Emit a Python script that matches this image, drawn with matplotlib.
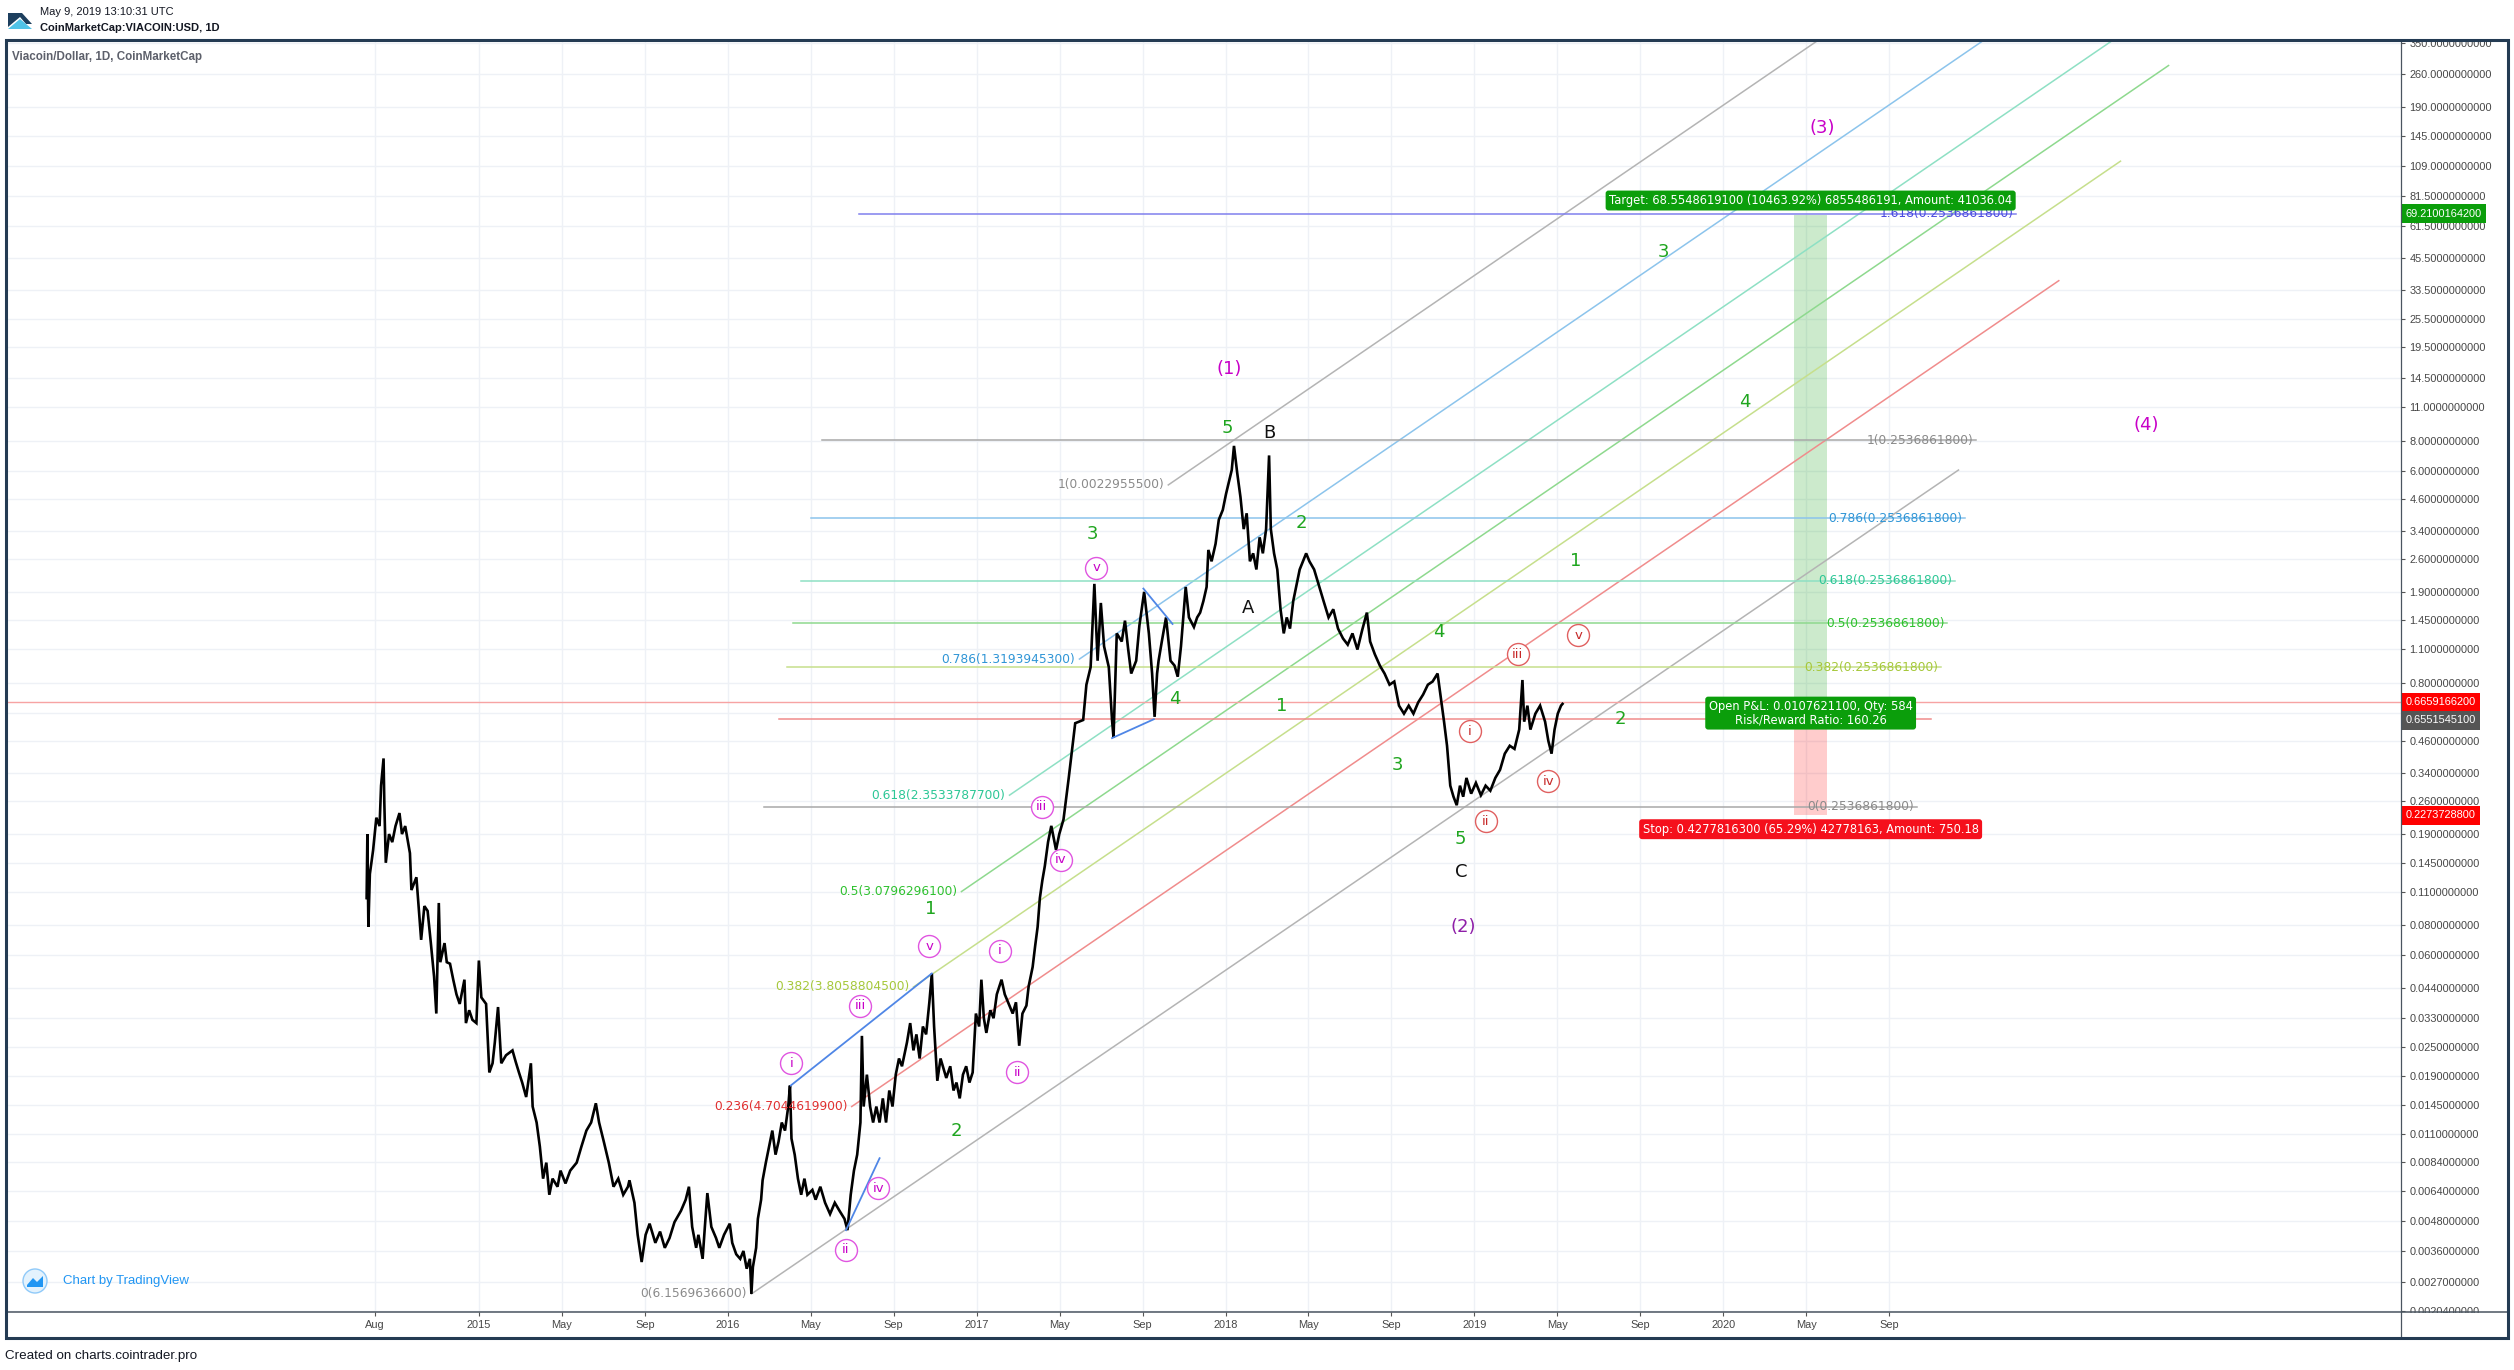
import matplotlib
matplotlib.use('Agg')
import matplotlib.pyplot as plt
from matplotlib.patches import Rectangle, Polygon, Ellipse
from matplotlib.lines import Line2D
from matplotlib.ticker import NullLocator

# ---------------------------------------------------------------
# data (x in decimal years, y in USD)
# ---------------------------------------------------------------
price_years = [
    2014.549, 2014.552, 2014.556, 2014.562, 2014.575, 2014.588, 2014.601, 2014.607, 2014.617, 2014.620,
    2014.626, 2014.639, 2014.652, 2014.665, 2014.681, 2014.691, 2014.704, 2014.723, 2014.729, 2014.749,
    2014.768, 2014.781, 2014.794, 2014.807, 2014.820, 2014.829, 2014.839, 2014.845, 2014.862, 2014.871,
    2014.884, 2014.897, 2014.910, 2014.923, 2014.942, 2014.948, 2014.961, 2014.974, 2014.990, 2015.000,
    2015.010, 2015.029, 2015.042, 2015.055, 2015.064, 2015.077, 2015.090, 2015.109, 2015.135, 2015.148,
    2015.161, 2015.174, 2015.190, 2015.209, 2015.216, 2015.232, 2015.245, 2015.258, 2015.271, 2015.283,
    2015.296, 2015.316, 2015.328, 2015.348, 2015.367, 2015.393, 2015.412, 2015.432, 2015.451, 2015.470,
    2015.483, 2015.502, 2015.522, 2015.541, 2015.560, 2015.580, 2015.599, 2015.605, 2015.625, 2015.638,
    2015.654, 2015.670, 2015.686, 2015.709, 2015.728, 2015.747, 2015.766, 2015.786, 2015.812, 2015.831,
    2015.844, 2015.857, 2015.873, 2015.882, 2015.899, 2015.908, 2015.918, 2015.934, 2015.953, 2015.966,
    2015.985, 2016.008, 2016.018, 2016.034, 2016.050, 2016.063, 2016.076, 2016.089, 2016.095, 2016.101,
    2016.114, 2016.121, 2016.134, 2016.140, 2016.153, 2016.166, 2016.179, 2016.192, 2016.204, 2016.217,
    2016.230, 2016.243, 2016.250, 2016.256, 2016.269, 2016.282, 2016.295, 2016.308, 2016.320, 2016.340,
    2016.353, 2016.372, 2016.391, 2016.411, 2016.430, 2016.449, 2016.469, 2016.481, 2016.494, 2016.507,
    2016.520, 2016.533, 2016.539, 2016.546, 2016.559, 2016.572, 2016.584, 2016.597, 2016.610, 2016.623,
    2016.636, 2016.649, 2016.662, 2016.675, 2016.688, 2016.700, 2016.720, 2016.733, 2016.746, 2016.758,
    2016.771, 2016.784, 2016.797, 2016.810, 2016.820, 2016.829, 2016.842, 2016.855, 2016.878, 2016.894,
    2016.907, 2016.919, 2016.932, 2016.945, 2016.958, 2016.971, 2016.984, 2016.997, 2017.010, 2017.019,
    2017.029, 2017.039, 2017.055, 2017.068, 2017.081, 2017.100, 2017.113, 2017.132, 2017.145, 2017.158,
    2017.171, 2017.184, 2017.200, 2017.209, 2017.225, 2017.235, 2017.245, 2017.254, 2017.264, 2017.274,
    2017.287, 2017.300, 2017.319, 2017.332, 2017.349, 2017.370, 2017.396, 2017.428, 2017.441, 2017.458,
    2017.473, 2017.486, 2017.499, 2017.512, 2017.531, 2017.544, 2017.550, 2017.563, 2017.583, 2017.596,
    2017.609, 2017.621, 2017.641, 2017.654, 2017.673, 2017.692, 2017.705, 2017.715, 2017.725, 2017.731,
    2017.744, 2017.761, 2017.779, 2017.795, 2017.808, 2017.821, 2017.840, 2017.853, 2017.873, 2017.886,
    2017.898, 2017.911, 2017.924, 2017.931, 2017.944, 2017.960, 2017.973, 2017.989, 2018.002, 2018.025,
    2018.034, 2018.047, 2018.060, 2018.073, 2018.085, 2018.098, 2018.111, 2018.124, 2018.137, 2018.150,
    2018.163, 2018.175, 2018.182, 2018.195, 2018.208, 2018.221, 2018.234, 2018.246, 2018.259, 2018.272,
    2018.285, 2018.298, 2018.311, 2018.324, 2018.337, 2018.356, 2018.375, 2018.394, 2018.414, 2018.433,
    2018.452, 2018.472, 2018.491, 2018.510, 2018.530, 2018.549, 2018.568, 2018.581, 2018.600, 2018.620,
    2018.639, 2018.659, 2018.678, 2018.697, 2018.717, 2018.736, 2018.755, 2018.774, 2018.794, 2018.813,
    2018.832, 2018.852, 2018.865, 2018.878, 2018.890, 2018.903, 2018.916, 2018.929, 2018.942, 2018.955,
    2018.968, 2018.987, 2019.006, 2019.026, 2019.045, 2019.064, 2019.084, 2019.103, 2019.122, 2019.142,
    2019.161, 2019.180, 2019.193, 2019.200, 2019.213, 2019.225, 2019.245, 2019.264, 2019.284, 2019.297,
    2019.310, 2019.322, 2019.335, 2019.348, 2019.354,
]
price_values = [
    0.1034, 0.190, 0.0786, 0.130, 0.163, 0.222, 0.205, 0.301, 0.390, 0.258,
    0.1446, 0.190, 0.176, 0.205, 0.232, 0.190, 0.205, 0.1585, 0.1116, 0.126,
    0.0695, 0.0958, 0.0915, 0.0674, 0.0490, 0.0345, 0.0987, 0.0562, 0.0674, 0.0562,
    0.0554, 0.0476, 0.0414, 0.0378, 0.0476, 0.0315, 0.0356, 0.0325, 0.0315, 0.0571,
    0.0402, 0.0378, 0.0197, 0.0215, 0.0262, 0.0367, 0.0215, 0.0232, 0.0243, 0.0218,
    0.0197, 0.0179, 0.0156, 0.0215, 0.01425, 0.01224, 0.00974, 0.00718, 0.00836, 0.00616,
    0.00718, 0.00665, 0.00775, 0.00686, 0.00775, 0.00836, 0.00974, 0.01134, 0.01224, 0.0147,
    0.01224, 0.0102, 0.00836, 0.00665, 0.00718, 0.00616, 0.00665, 0.00707, 0.00571, 0.00421,
    0.00325, 0.00421, 0.00468, 0.00390, 0.00434, 0.00372, 0.00408, 0.00475, 0.00529, 0.00588,
    0.00665, 0.00454, 0.00372, 0.00421, 0.00335, 0.00454, 0.00626, 0.00454, 0.00408, 0.00372,
    0.00421, 0.00468, 0.00390, 0.00350, 0.00335, 0.00361, 0.00305, 0.00335, 0.00240, 0.00310,
    0.00372, 0.00490, 0.00588, 0.00707, 0.00836, 0.00974, 0.01134, 0.00902, 0.0102, 0.01224,
    0.01134, 0.01425, 0.0174, 0.01051, 0.00902, 0.00718, 0.00616, 0.00718, 0.00616, 0.00645,
    0.00588, 0.00665, 0.00571, 0.00513, 0.00571, 0.00529, 0.00490, 0.00440, 0.00616, 0.00775,
    0.00902, 0.01224, 0.0279, 0.01425, 0.0193, 0.01425, 0.01224, 0.01425, 0.01224, 0.0154,
    0.01224, 0.0166, 0.01425, 0.0193, 0.0225, 0.0209, 0.0262, 0.0315, 0.0243, 0.0283,
    0.0225, 0.0305, 0.0283, 0.0384, 0.0505, 0.0305, 0.0182, 0.0225, 0.0187, 0.0209,
    0.0166, 0.0179, 0.0154, 0.0193, 0.0209, 0.0179, 0.0197, 0.0345, 0.0305, 0.0476,
    0.0330, 0.0287, 0.0356, 0.0330, 0.0414, 0.0476, 0.0414, 0.0372, 0.0345, 0.0384,
    0.0254, 0.0345, 0.0372, 0.0447, 0.0537, 0.0655, 0.0786, 0.1034, 0.1223, 0.1403,
    0.1763, 0.2054, 0.1634, 0.190, 0.2183, 0.324, 0.545, 0.562, 0.786, 0.929,
    2.05, 0.987, 1.71, 1.132, 0.929, 0.562, 0.475, 1.28, 1.185, 1.445,
    1.098, 0.874, 0.987, 1.38, 1.90, 1.28, 0.874, 0.579, 0.874, 0.987,
    1.185, 1.49, 0.987, 0.943, 0.848, 1.132, 1.99, 1.49, 1.36, 1.49,
    1.56, 1.74, 1.99, 2.83, 2.54, 3.00, 3.77, 4.14, 4.82, 6.05,
    7.61, 5.88, 4.68, 3.45, 4.01, 2.54, 2.74, 2.35, 3.19, 2.74,
    3.45, 6.95, 3.45, 2.74, 2.35, 1.61, 1.28, 1.49, 1.34, 1.74,
    2.02, 2.35, 2.54, 2.74, 2.54, 2.35, 2.02, 1.74, 1.49, 1.61,
    1.34, 1.22, 1.15, 1.28, 1.098, 1.32, 1.56, 1.185, 1.049, 0.943,
    0.874, 0.786, 0.810, 0.644, 0.597, 0.644, 0.597, 0.664, 0.716, 0.786,
    0.810, 0.874, 0.695, 0.553, 0.440, 0.301, 0.271, 0.250, 0.301, 0.271,
    0.324, 0.279, 0.309, 0.275, 0.301, 0.287, 0.324, 0.350, 0.408, 0.440,
    0.427, 0.513, 0.822, 0.553, 0.644, 0.513, 0.597, 0.644, 0.553, 0.461,
    0.408, 0.513, 0.597, 0.644, 0.655,
]

# price axis and time axis
price_ticks = [350, 260, 190, 145, 109, 81.5, 61.5, 45.5, 33.5, 25.5, 19.5, 14.5, 11, 8, 6,
               4.6, 3.4, 2.6, 1.9, 1.45, 1.1, 0.8, 0.6, 0.46, 0.34, 0.26, 0.19, 0.145, 0.11,
               0.08, 0.06, 0.044, 0.033, 0.025, 0.019, 0.0145, 0.011, 0.0084, 0.0064, 0.0048,
               0.0036, 0.0027, 0.00204]
time_ticks = [(2014, 8), (2015, 1), (2015, 5), (2015, 9), (2016, 1), (2016, 5), (2016, 9),
              (2017, 1), (2017, 5), (2017, 9), (2018, 1), (2018, 5), (2018, 9), (2019, 1),
              (2019, 5), (2019, 9), (2020, 1), (2020, 5), (2020, 9)]
time_labels = ['Aug', '2015', 'May', 'Sep', '2016', 'May', 'Sep', '2017', 'May', 'Sep',
               '2018', 'May', 'Sep', '2019', 'May', 'Sep', '2020', 'May', 'Sep']

# fib channel (diagonal lines)
channel_labels = ['0(6.1569636600)', '0.236(4.7044619900)', '0.382(3.8058804500)',
                  '0.5(3.0796296100)', '0.618(2.3533787700)', '0.786(1.3193945300)',
                  '1(0.0022955500)']
channel_start_year = [2016.095, 2016.498, 2016.746, 2016.939, 2017.132, 2017.413, 2017.770]
channel_start_price = [0.00240, 0.01425, 0.0444, 0.110, 0.275, 1.003, 5.25]
channel_end_year = [2020.945, 2021.348, 2021.596, 2021.789, 2021.982, 2022.263, 2022.620]
channel_end_price = [6.05, 36.6, 114, 283, 707, 2580, 13500]
channel_line_colors = ['#b4b4b4', '#f08c8c', '#c6df8c', '#8ed98e', '#8ee0c4', '#8cc4ec', '#b4b4b4']
channel_text_colors = ['#8a8a8a', '#e03030', '#a6c83a', '#2ec12e', '#2cc796', '#2f95d6', '#8a8a8a']

# fib retracement (horizontal lines); the 0.236 label sits under the P&L box
fib_labels = ['1.618(0.2536861800)', '1(0.2536861800)', '0.786(0.2536861800)',
              '0.618(0.2536861800)', '0.5(0.2536861800)', '0.382(0.2536861800)',
              '', '0(0.2536861800)']
fib_prices = [69.0, 8.03, 3.83, 2.115, 1.41, 0.929, 0.565, 0.2465]
fib_start_year = [2016.526, 2016.378, 2016.333, 2016.295, 2016.262, 2016.237, 2016.204, 2016.146]
fib_end_year = [2021.177, 2021.016, 2020.971, 2020.932, 2020.900, 2020.874, 2020.835, 2020.778]
fib_line_colors = ['#8080ee', '#a8a8a8', '#8cc4ec', '#8ee0c4', '#8ed98e', '#c6df8c', '#f08c8c', '#a8a8a8']
fib_text_colors = ['#4a4ae0', '#8a8a8a', '#2f95d6', '#2cc796', '#2ec12e', '#a6c83a', '#e03030', '#8a8a8a']

# long position tool
entry_price = 0.6659166200
target_price = 68.5548619100
stop_price = 0.2273728800
last_price = 0.6551545100
position_years = [2020.284, 2020.418]

# elliott wave labels
green_labels = ['1', '2', '3', '4', '5', '1', '2', '3', '4', '5', '1', '2', '3', '4']
green_years = [2016.816, 2016.919, 2017.467, 2017.795, 2018.008, 2018.227, 2018.304,
               2018.691, 2018.858, 2018.942, 2019.406, 2019.586, 2019.760, 2020.088]
green_prices = [0.0929, 0.01134, 3.30, 0.685, 9.0, 0.644, 3.66, 0.367, 1.30, 0.1817,
                2.54, 0.570, 48.2, 11.5]
abc_labels = ['A', 'B', 'C']
abc_years = [2018.092, 2018.175, 2018.948]
abc_prices = [1.635, 8.60, 0.132]
major_labels = ['(1)', '(2)', '(3)', '(4)']
major_years = [2018.014, 2018.955, 2020.398, 2021.699]
major_prices = [15.8, 0.0786, 156, 9.28]
major_colors = ['#c800c8', '#8e1ea8', '#c800c8', '#c800c8']
minor_labels = ['i', 'ii', 'iii', 'iv', 'v', 'i', 'ii', 'iii', 'iv', 'v']
minor_years = [2016.256, 2016.475, 2016.533, 2016.604, 2016.810, 2017.093, 2017.164,
               2017.261, 2017.338, 2017.480]
minor_prices = [0.0215, 0.00366, 0.0372, 0.00655, 0.0655, 0.0626, 0.0197, 0.2465, 0.149, 2.385]
sub_labels = ['i', 'ii', 'iii', 'iv', 'v']
sub_years = [2018.981, 2019.045, 2019.174, 2019.296, 2019.418]
sub_prices = [0.505, 0.215, 1.049, 0.314, 1.26]

# blue trend lines drawn on the chart
blue_years = [(2016.253, 2016.820), (2016.475, 2016.610), (2017.544, 2017.712), (2017.670, 2017.787)]
blue_prices = [(0.0174, 0.0505), (0.00440, 0.00872), (0.473, 0.566), (1.96, 1.40)]

# ---------------------------------------------------------------
W, H = 2514, 1370
fig = plt.figure(figsize=(W / 100, H / 100), dpi=100)
fig.patch.set_facecolor('white')


def fx(x):
    return x / W


def fy(y):
    return 1 - y / H


AXIS_FONT = 'Liberation Sans'
DRAW_FONT = 'DejaVu Sans'

ax = fig.add_axes([fx(6), fy(1312), fx(2401) - fx(6), fy(40) - fy(1312)])
ax.set_yscale('log')
ax.set_xlim(2013.100, 2022.723)
ax.set_ylim(0.002021, 360.7)
for s in ax.spines.values():
    s.set_visible(False)

ax.yaxis.tick_right()
ax.set_yticks(price_ticks)
ax.set_yticklabels([f'{v:.10f}' for v in price_ticks])
ax.yaxis.set_minor_locator(NullLocator())
ax.set_xticks([y + (m - 1) / 12 for y, m in time_ticks])
ax.set_xticklabels(time_labels)
ax.tick_params(axis='y', length=3, width=0.8, pad=3, color='#555555',
               labelsize=7.9, labelcolor='#474747')
ax.tick_params(axis='x', length=3, width=0.8, pad=3, color='#555555',
               labelsize=7.9, labelcolor='#474747')
for lab in ax.get_yticklabels() + ax.get_xticklabels():
    lab.set_family(AXIS_FONT)
ax.grid(True, color='#eef1f6', lw=1.0, zorder=0)
ax.set_axisbelow(True)

# price
ax.plot(price_years, price_values, color='black', lw=1.9, zorder=3, solid_joinstyle='miter')

# fib channel
for i in range(len(channel_labels)):
    ax.plot([channel_start_year[i], channel_end_year[i]],
            [channel_start_price[i], channel_end_price[i]],
            color=channel_line_colors[i], lw=1.1, zorder=2)
    ax.annotate(channel_labels[i], (channel_start_year[i], channel_start_price[i]),
                xytext=(-3, 0), textcoords='offset points', ha='right', va='center',
                fontsize=8.8, family=DRAW_FONT, color=channel_text_colors[i], zorder=4)

# fib retracement
for i in range(len(fib_labels)):
    ax.plot([fib_start_year[i], fib_end_year[i]], [fib_prices[i], fib_prices[i]],
            color=fib_line_colors[i], lw=1.1, zorder=2)
    if fib_labels[i]:
        ax.annotate(fib_labels[i], (fib_end_year[i], fib_prices[i]),
                    xytext=(-2, 0), textcoords='offset points', ha='right', va='center',
                    fontsize=8.8, family=DRAW_FONT, color=fib_text_colors[i], zorder=4)

# blue wave lines
for yrs, prs in zip(blue_years, blue_prices):
    ax.plot(yrs, prs, color='#4f86e6', lw=1.3, zorder=3)

# long position
ax.axhline(entry_price, color='#f7a3a3', lw=1.0, zorder=2)
ax.fill_between(position_years, entry_price, target_price, color=(0.0, 0.6, 0.0, 0.2),
                lw=0, zorder=1)
ax.fill_between(position_years, stop_price, entry_price, color=(1.0, 0.0, 0.0, 0.2),
                lw=0, zorder=1)
mid_year = sum(position_years) / 2
ax.annotate('Target: 68.5548619100 (10463.92%) 6855486191, Amount: 41036.04',
            (mid_year, target_price), xytext=(0, 5.5), textcoords='offset points',
            ha='center', va='bottom', fontsize=8.3, family=DRAW_FONT, color='white', zorder=6,
            bbox=dict(boxstyle='round,pad=0.3,rounding_size=0.25', fc='#0b9e0b', ec='none'))
ax.annotate('Open P&L: 0.0107621100, Qty: 584\nRisk/Reward Ratio: 160.26',
            (mid_year, 0.600), ha='center', va='center', fontsize=8.3, family=DRAW_FONT,
            color='white', linespacing=1.0, zorder=6,
            bbox=dict(boxstyle='round,pad=0.3,rounding_size=0.25', fc='#0b9e0b', ec='none'))
ax.annotate('Stop: 0.4277816300 (65.29%) 42778163, Amount: 750.18',
            (mid_year, 0.199), ha='center', va='center', fontsize=8.3, family=DRAW_FONT,
            color='white', zorder=6,
            bbox=dict(boxstyle='round,pad=0.3,rounding_size=0.25', fc='#f5101c', ec='none'))

# price axis flags
for txt, p, c in [('69.2100164200', 69.21, '#0b9e0b'), ('0.6659166200', entry_price, '#ff0000'),
                  (f'{last_price:.10f}', 0.561, '#555555'), ('0.2273728800', stop_price, '#ff0000')]:
    ax.annotate(txt, (1, p), xycoords=('axes fraction', 'data'), xytext=(3.2, 0),
                textcoords='offset points', ha='left', va='center', fontsize=7.9,
                family=AXIS_FONT, color='white', annotation_clip=False, zorder=10,
                bbox=dict(boxstyle='square,pad=0.42', fc=c, ec='none'))

# elliott labels
for t, x, p in zip(green_labels, green_years, green_prices):
    ax.text(x, p, t, color='#1ea51e', fontsize=13, family=DRAW_FONT, ha='center', va='center', zorder=5)
for t, x, p in zip(abc_labels, abc_years, abc_prices):
    ax.text(x, p, t, color='#111111', fontsize=13, family=DRAW_FONT, ha='center', va='center', zorder=5)
for t, x, p, c in zip(major_labels, major_years, major_prices, major_colors):
    ax.text(x, p, t, color=c, fontsize=13, family=DRAW_FONT, ha='center', va='center', zorder=5)
ax.scatter(minor_years, minor_prices, s=250, facecolors='white', edgecolors='#e055e0',
           linewidths=1.0, zorder=5)
for t, x, p in zip(minor_labels, minor_years, minor_prices):
    ax.text(x, p, t, color='#c800c8', fontsize=9.5, family=DRAW_FONT, ha='center', va='center', zorder=6)
ax.scatter(sub_years, sub_prices, s=250, facecolors='white', edgecolors='#e06060',
           linewidths=1.0, zorder=5)
for t, x, p in zip(sub_labels, sub_years, sub_prices):
    ax.text(x, p, t, color='#c62828', fontsize=9.5, family=DRAW_FONT, ha='center', va='center', zorder=6)

# ---------------------------------------------------------------
# frame, header and footer (figure pixels)
fig.add_artist(Rectangle((fx(2390), fy(39)), fx(124), fy(0) - fy(39), transform=fig.transFigure,
                         fc='white', ec='none', zorder=1))
fig.add_artist(Rectangle((fx(2402), fy(1337)), fx(104), fy(1313) - fy(1337), transform=fig.transFigure,
                         fc='white', ec='none', zorder=1))
fig.add_artist(Line2D([fx(6), fx(2508)], [fy(1312), fy(1312)], transform=fig.transFigure,
                      color='#4a5560', lw=1.1, zorder=2))
fig.add_artist(Line2D([fx(2401), fx(2401)], [fy(40), fy(1338)], transform=fig.transFigure,
                      color='#4a5560', lw=0.9, zorder=2))
fig.add_artist(Rectangle((fx(6), fy(1338)), fx(2502), fy(40) - fy(1338), transform=fig.transFigure,
                         fc='none', ec='#243b53', lw=2.2, zorder=3))

# logo
fig.add_artist(Polygon([(fx(8), fy(13)), (fx(22), fy(13)), (fx(32), fy(24)), (fx(26), fy(24)),
                        (fx(20), fy(17)), (fx(8), fy(27))], closed=True, transform=fig.transFigure,
                       fc='#1d3f5e', ec='none', zorder=3))
fig.add_artist(Polygon([(fx(8), fy(29)), (fx(20), fy(19)), (fx(32), fy(29))], closed=True,
                       transform=fig.transFigure, fc='#4fc3e8', ec='none', zorder=3))
fig.text(fx(40), fy(12), 'May 9, 2019 13:10:31 UTC', fontsize=8, family=AXIS_FONT,
         color='#131722', va='center')
fig.text(fx(40), fy(28), 'CoinMarketCap:VIACOIN:USD, 1D', fontsize=8, family=AXIS_FONT,
         color='#131722', va='center', fontweight='bold')
fig.text(fx(12), fy(57), 'Viacoin/Dollar, 1D, CoinMarketCap', fontsize=8.4, family=AXIS_FONT,
         color='#5d606b', va='center', fontweight='bold')

# watermark
fig.add_artist(Ellipse((fx(35), fy(1281)), fx(24), 24 / H, transform=fig.transFigure,
                       fc='#e3f2fd', ec='#90caf9', lw=1, zorder=3))
fig.add_artist(Polygon([(fx(27), fy(1285)), (fx(33), fy(1278)), (fx(37), fy(1282)),
                        (fx(43), fy(1276)), (fx(43), fy(1287)), (fx(27), fy(1287))],
                       closed=True, transform=fig.transFigure, fc='#2196f3', ec='none', zorder=3))
fig.text(fx(63), fy(1281), 'Chart by TradingView', fontsize=9.5, family=AXIS_FONT,
         color='#2196f3', va='center')

fig.text(fx(5), fy(1356), 'Created on charts.cointrader.pro', fontsize=9.6, family=AXIS_FONT,
         color='#131722', va='center')

fig.savefig('out.png', dpi=100)
